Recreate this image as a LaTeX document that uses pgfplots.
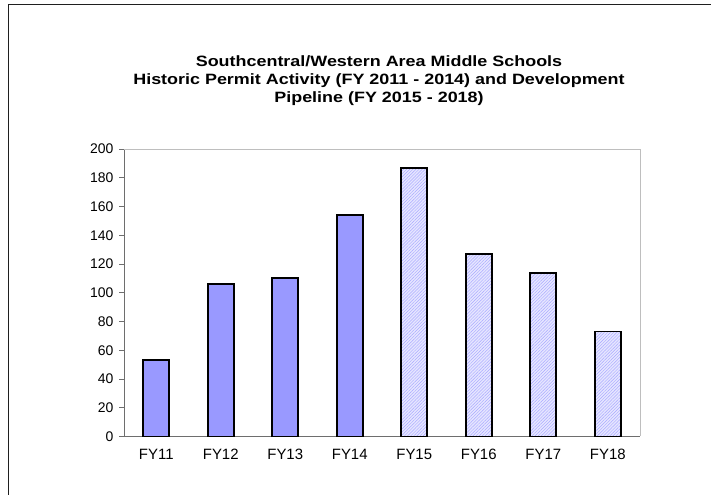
\documentclass[border=0pt]{standalone}
\usepackage{pgfplots}
\pgfplotsset{compat=1.18}
\usepackage{fontspec}
\setmainfont{Liberation Sans}
\newfontfamily\titlefont[FakeStretch=1.2]{Liberation Sans}
\usetikzlibrary{patterns.meta}
\definecolor{barblue}{RGB}{153,153,255}
\definecolor{axisgray}{RGB}{110,110,110}
\definecolor{framegray}{RGB}{190,190,190}
\begin{document}
\begin{tikzpicture}[x=1bp,y=1bp]
\useasboundingbox (0,0) rectangle (711,495);
\draw[black!88,line width=1.2bp] (8.5,0) -- (8.5,490.5) -- (711,490.5);
\node[align=center,font=\titlefont\bfseries\fontsize{15}{18.5}\selectfont,anchor=base] at (379,392)
  {Southcentral/Western Area Middle Schools\\Historic Permit Activity (FY 2011 - 2014) and Development\\Pipeline (FY 2015 - 2018)};
\begin{axis}[
  at={(156.25bp,58.5bp)}, anchor=origin,
  scale only axis, width=516bp, height=287.5bp,
  xmin=-0.5, xmax=7.5, ymin=0, ymax=200,
  axis x line*=bottom, axis y line*=left,
  axis line style={axisgray, line width=0.9bp},
  ytick={0,20,...,200},
  xtick={0,...,7},
  xticklabels={FY11,FY12,FY13,FY14,FY15,FY16,FY17,FY18},
  x tick style={draw=none},
  extra x ticks={-0.5,0.5,...,7.5},
  extra x tick labels={},
  extra x tick style={tick style={draw=axisgray,line width=0.9bp}, major tick length=5bp},
  y tick style={draw=axisgray,line width=0.9bp},
  major tick length=5bp,
  tick align=outside,
  yticklabel style={font=\fontsize{14}{16}\selectfont, xshift=-2bp},
  xticklabel style={font=\fontsize{15}{17}\selectfont, yshift=-4bp},
  /pgf/number format/assume math mode=true,
  clip=false,
]
\addplot[ybar, bar width=26bp, bar shift=0pt, fill=barblue, draw=black, line width=1.8bp]
  coordinates {(0,53) (1,106) (2,110) (3,154)};
\addplot[ybar, bar width=26bp, bar shift=0pt, draw=black, line width=1.8bp,
  preaction={fill=barblue!25},
  pattern={Lines[angle=45,distance=2.2bp,line width=0.45bp]}, pattern color=barblue!85]
  coordinates {(4,187) (5,127) (6,114) (7,73)};
\draw[framegray,line width=0.9bp] (rel axis cs:0,1) -- (rel axis cs:1,1) -- (rel axis cs:1,0);
\end{axis}
\end{tikzpicture}
\end{document}
